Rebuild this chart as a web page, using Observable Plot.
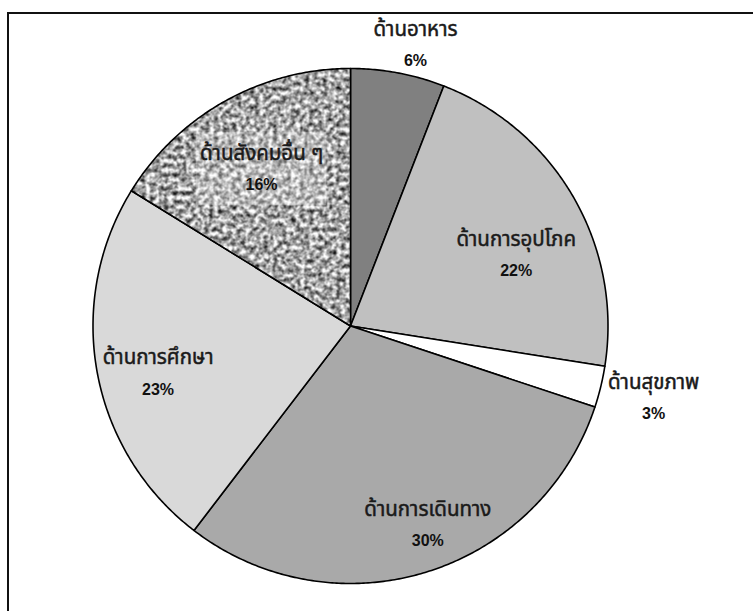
<!DOCTYPE html>
<html><head><meta charset="utf-8">
<script src="https://cdn.jsdelivr.net/npm/d3@7"></script>
<script src="https://cdn.jsdelivr.net/npm/@observablehq/plot@0.6"></script>
<style>
html,body{margin:0;padding:0;background:#fff;}
#wrap{position:relative;width:753px;height:611px;overflow:hidden;background:#fff;}
#chart{position:absolute;left:0;top:0;}
#border{position:absolute;left:7px;top:12px;width:820px;height:700px;border-left:2px solid #111;border-top:2px solid #111;box-sizing:border-box;pointer-events:none;}
</style></head><body>
<div id="wrap"><div id="chart"></div><div id="border"></div></div>
<script>
// ---- data ----
const categories = ["ด้านอาหาร", "ด้านการอุปโภค", "ด้านสุขภาพ", "ด้านการเดินทาง", "ด้านการศึกษา", "ด้านสังคมอื่น ๆ"];
const shares = [5.9, 21.6, 2.6, 30.3, 23.4, 16.2];
const pctLabels = ["6%", "22%", "3%", "30%", "23%", "16%"];

// ---- layout / style ----
const W = 753, H = 611;
const CX = 350, CY = 325.5, R = 257.5;
const fills = ["#808080", "#c0c0c0", "#ffffff", "#a9a9a9", "#d9d9d9", "url(#granite)"];
// [angle offset from slice middle (deg), radius as fraction of pie radius]
const labelLayout = [[2.4, 1.12], [6.7, 0.70], [-0.3, 1.21], [-4.1, 0.83], [-3.5, 0.77], [-0.4, 0.70]];
const boxed = [false, false, false, false, false, true];
const BOX_W = 130, BOX_H = 73;

const arcs = d3.pie().sort(null).value(d => d)(shares);
const wedges = arcs.map(a => {
  const n = Math.max(2, Math.ceil((a.endAngle - a.startAngle) / (Math.PI / 360)));
  const pts = [{x: 0, y: 0}];
  for (let k = 0; k <= n; k++) {
    const t = a.startAngle + (a.endAngle - a.startAngle) * k / n;
    pts.push({x: Math.sin(t), y: Math.cos(t)});
  }
  pts.push({x: 0, y: 0});
  return pts;
});
const labels = arcs.map((a, i) => {
  const m = (a.startAngle + a.endAngle) / 2 + labelLayout[i][0] * Math.PI / 180;
  const r = labelLayout[i][1];
  return {name: categories[i], pct: pctLabels[i], x: r * Math.sin(m), y: r * Math.cos(m), boxed: boxed[i]};
});
const boxes = labels.filter(d => d.boxed).map(d => ({
  x1: d.x - BOX_W / 2 / R, x2: d.x + BOX_W / 2 / R,
  y1: d.y - BOX_H / 2 / R, y2: d.y + BOX_H / 2 / R
}));

const thaiFont = "'Noto Sans Thai', Tahoma, 'DejaVu Sans', sans-serif";
const latinFont = "'Liberation Sans', Arial, sans-serif";

const svg = Plot.plot({
  width: W, height: H, margin: 0,
  x: {domain: [-1, 1], range: [CX - R, CX + R], axis: null},
  y: {domain: [-1, 1], range: [CY + R, CY - R], axis: null},
  style: {background: "transparent", overflow: "visible"},
  marks: [
    ...wedges.map((w, i) => Plot.line(w, {
      x: "x", y: "y", fill: fills[i], stroke: "#000", strokeWidth: 1.6, strokeLinejoin: "round"
    })),
    Plot.rect(boxes, {x1: "x1", x2: "x2", y1: "y1", y2: "y2", fill: "#ffffff", fillOpacity: 0.25}),
    Plot.text(labels, {x: "x", y: "y", text: "name", dy: -16, fontSize: 20.5, fontFamily: thaiFont, fill: "#1a1a1a", stroke: "#1a1a1a", strokeWidth: 0.5}),
    Plot.text(labels, {x: "x", y: "y", text: "pct", dy: 16, fontSize: 16, fontWeight: "bold", fontFamily: latinFont, fill: "#111"})
  ]
});

d3.select(svg).insert("defs", ":first-child").html(`
  <filter id="graniteNoise" x="0" y="0" width="100%" height="100%" color-interpolation-filters="sRGB">
    <feTurbulence type="fractalNoise" baseFrequency="0.22" numOctaves="3" seed="11" result="n"/>
    <feColorMatrix in="n" type="matrix" values="1.7 0 0 0 -0.2  1.7 0 0 0 -0.2  1.7 0 0 0 -0.2  0 0 0 0 1" result="g"/>
    <feGaussianBlur in="g" stdDeviation="0.7"/>
  </filter>
  <pattern id="granite" patternUnits="userSpaceOnUse" x="0" y="0" width="753" height="611">
    <rect width="753" height="611" filter="url(#graniteNoise)"/>
  </pattern>
`);

document.getElementById("chart").appendChild(svg);
</script>
</body></html>
